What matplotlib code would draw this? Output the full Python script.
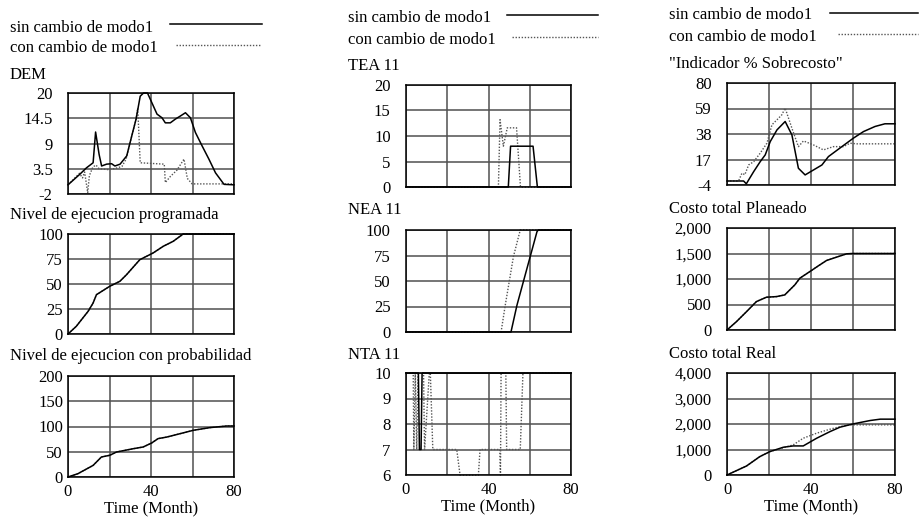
import matplotlib
matplotlib.use("Agg")
import matplotlib.pyplot as plt
from matplotlib.lines import Line2D

plt.rcParams['font.family'] = ['Liberation Serif', 'DejaVu Serif']
plt.rcParams['font.size'] = 12

W, H = 919, 519

# ---- data (Time in months) ----
dem_sin_t = [0, 5.7, 8.9, 12.1, 13.3, 15.0, 16.2, 18.6, 21.0, 22.6, 25.1, 28.3, 30.7, 32.8, 34.8,
             36.4, 38.3, 40.4, 42.9, 45.3, 46.9, 49.3, 51.7, 54.2, 56.6, 59.0, 61.4, 64.6, 67.9,
             71.1, 75.2, 80]
dem_sin = [0.0, 2.3, 3.7, 4.8, 11.5, 6.6, 4.1, 4.5, 4.6, 4.1, 4.5, 6.3, 10.6, 14.3, 19.3,
           20.0, 20.0, 17.9, 15.4, 14.6, 13.5, 13.5, 14.3, 15.0, 15.7, 14.6, 11.4, 8.5, 5.6,
           2.6, 0.1, 0.0]
dem_con_t = [0, 5.5, 7.0, 8.0, 9.5, 10.3, 12.0, 13.5, 15.0, 19.6, 23.0, 26.0, 28.0, 30.7, 32.8,
             33.6, 34.8, 46.4, 46.9, 49.3, 52.5, 55.9, 57.5, 59.8, 80]
dem_con = [0.0, 2.5, 1.5, 2.8, -1.7, 2.0, 3.9, 4.3, 3.5, 3.3, 3.6, 4.0, 5.6, 10.6, 14.3,
           16.7, 4.8, 4.5, 0.5, 1.8, 3.2, 5.6, 1.4, 0.2, 0.2]

prog_t = [0, 4.0, 6.5, 9.7, 12.1, 13.7, 20.1, 25.0, 28.2, 34.6, 41.0, 45.9, 50.7, 55.5, 80]
prog = [0, 7.7, 14.3, 22.7, 31.0, 39.3, 47.7, 52.7, 59.3, 74.3, 81.0, 87.7, 92.7, 100, 100]

prob_t = [0, 4.8, 12.1, 16.1, 20.1, 23.4, 31.4, 36.2, 40.3, 43.4, 47.5, 52.3, 60.4, 68.4, 76.5, 80]
prob = [0, 6.6, 23.0, 39.6, 43.0, 49.5, 56.0, 59.4, 67.3, 76.0, 79.0, 84.0, 92.5, 97.8, 101, 101]

tea_sin_t = [0, 49.6, 50.7, 61.6, 63.7, 80]
tea_sin = [0, 0, 8.0, 8.0, 0, 0]
tea_con_t = [0, 44.8, 45.6, 47.2, 49.1, 53.6, 55.5, 80]
tea_con = [0, 0, 13.2, 8.0, 11.6, 11.6, 0, 0]

nea_sin_t = [0, 50.9, 53.8, 60.2, 63.5, 64.1, 80]
nea_sin = [0, 0, 26.3, 73.8, 98.3, 100, 100]
nea_con_t = [0, 46.1, 48.1, 52.1, 55.4, 80]
nea_con = [0, 0, 26, 74, 100, 100]

nta_sin_t = [0, 6.0, 6.5, 7.3, 7.8, 80]
nta_sin = [10, 10, 7, 7, 10, 10]
nta_con_t = [0, 3.5, 3.8, 4.5, 5.2, 5.8, 8.5, 9.0, 11.3, 11.8, 13.0, 24.6, 26.2, 35.1, 35.9,
             45.5, 45.8, 46.1, 48.4, 48.8, 55.4, 56.7, 80]
nta_con = [10, 10, 7, 10, 7, 10, 10, 7, 10, 10, 7, 7, 6, 6, 7,
           7, 6, 10, 10, 7, 7, 10, 10]

ind_sin_t = [0, 7.9, 9.2, 12.7, 15.8, 18.2, 20.6, 23.8, 27.7, 30.9, 34.0, 37.2, 41.2, 45.2,
             48.3, 54.7, 60.2, 65.0, 70.5, 75.2, 80]
ind_sin = [-0.7, -0.7, -3.0, 7.0, 15.2, 20.8, 31.8, 41.4, 48.3, 37.3, 9.8, 4.3, 8.4, 12.5,
           19.4, 27.6, 34.6, 40.0, 44.2, 46.4, 46.4]
ind_con_t = [0, 5.5, 7.1, 8.5, 10.3, 12.7, 15.8, 19.0, 21.4, 23.8, 26.1, 27.7, 30.9, 34.0,
             36.4, 41.2, 45.9, 50.7, 55.4, 58.6, 61.8, 80]
ind_con = [-0.7, -0.7, 5.7, 4.5, 12.5, 15.2, 22.2, 30.4, 45.6, 49.7, 53.8, 59.3, 42.8, 27.6,
           32.3, 29.0, 24.9, 27.6, 27.6, 30.4, 29.9, 29.9]

plan_t = [0, 4.5, 9.3, 14.0, 18.8, 23.6, 27.5, 32.3, 34.7, 39.5, 43.5, 47.4, 52.2, 57.0, 60, 80]
plan = [0, 164, 360, 557, 643, 655, 688, 885, 1016, 1147, 1258, 1363, 1429, 1494, 1500, 1500]

real_sin_t = [0, 9.3, 15.6, 20.4, 26.8, 31.5, 36.3, 42.7, 49.1, 53.8, 60.2, 68.2, 73.0, 80]
real_sin = [0, 354, 720, 917, 1088, 1140, 1140, 1442, 1704, 1875, 2006, 2137, 2190, 2190]
real_con_t = [0, 9.3, 15.6, 20.4, 26.8, 31.5, 36.3, 42.7, 49.1, 55.4, 58.5, 80]
real_con = [0, 354, 720, 917, 1070, 1180, 1442, 1640, 1797, 1927, 1967, 1967]

legend_labels = ["sin cambio de modo1", "con cambio de modo1"]

# ---- layout in pixels: (title, x0, x1, y0, y1, yticks, ticklabels, labelpad, title baseline) ----
panels = [
    ("DEM", 68, 234, 93, 194, [-2, 3.5, 9, 14.5, 20], ["-2", "3.5", "9", "14.5", "20"], 11, 79,
     dem_sin_t, dem_sin, dem_con_t, dem_con),
    ("Nivel de ejecucion programada", 68, 234, 234, 334, [0, 25, 50, 75, 100],
     ["0", "25", "50", "75", "100"], 3.6, 219, prog_t, prog, prog_t, prog),
    ("Nivel de ejecucion con probabilidad", 68, 234, 376, 477, [0, 50, 100, 150, 200],
     ["0", "50", "100", "150", "200"], 3.6, 360, prob_t, prob, prob_t, prob),
    ("TEA 11", 406, 571, 85, 187, [0, 5, 10, 15, 20], ["0", "5", "10", "15", "20"], 11, 70,
     tea_sin_t, tea_sin, tea_con_t, tea_con),
    ("NEA 11", 406, 571, 230, 332, [0, 25, 50, 75, 100], ["0", "25", "50", "75", "100"], 11, 214,
     nea_sin_t, nea_sin, nea_con_t, nea_con),
    ("NTA 11", 406, 571, 373, 475, [6, 7, 8, 9, 10], ["6", "7", "8", "9", "10"], 11, 359,
     nta_sin_t, nta_sin, nta_con_t, nta_con),
    ('"Indicador % Sobrecosto"', 727, 895, 83, 185, [-4, 17, 38, 59, 80],
     ["-4", "17", "38", "59", "80"], 11, 68, ind_sin_t, ind_sin, ind_con_t, ind_con),
    ("Costo total Planeado", 727, 895, 228, 330, [0, 500, 1000, 1500, 2000],
     ["0", "500", "1,000", "1,500", "2,000"], 11, 213, plan_t, plan, plan_t, plan),
    ("Costo total Real", 727, 895, 373, 475, [0, 1000, 2000, 3000, 4000],
     ["0", "1,000", "2,000", "3,000", "4,000"], 11, 358, real_sin_t, real_sin, real_con_t, real_con),
]

# legend per column: text x, text baselines, line x-ranges and line y
legends = {
    68: (10, (32, 52), (170, 262), (176, 260), (24, 45)),
    406: (348, (22, 44), (507, 598), (512, 598), (15, 37)),
    727: (669, (19, 41), (830, 918), (838, 918), (13, 34)),
}

SOLID = dict(color="black", lw=1.1)
DOTTED = dict(color="#555555", lw=1.0, ls=(0, (1, 1.2)))

fig = plt.figure(figsize=(W / 100, H / 100), dpi=100)

for i, (title, x0, x1, y0, y1, yt, ytl, pad, ty, st, sv, ct, cv) in enumerate(panels):
    ax = fig.add_axes([x0 / W, (H - y1) / H, (x1 - x0) / W, (y1 - y0) / H])
    ax.plot(ct, cv, clip_on=False, **DOTTED)
    ax.plot(st, sv, clip_on=False, **SOLID)
    ax.set_xlim(0, 80)
    ax.set_ylim(yt[0], yt[-1])
    ax.set_yticks(yt)
    ax.set_yticklabels(ytl)
    ax.set_xticks([0, 20, 40, 60, 80])
    if i % 3 == 2:
        ax.set_xticklabels(["0", "", "40", "", "80"])
        ax.set_xlabel("Time (Month)", labelpad=0)
    else:
        ax.set_xticklabels([])
    ax.tick_params(length=0, pad=pad, axis="y")
    ax.tick_params(length=0, pad=5, axis="x")
    ax.grid(True, color="#505050", lw=1.1)
    ax.set_axisbelow(True)
    for s in ax.spines.values():
        s.set_linewidth(1.1)
    fig.text(legends[x0][0] / W, 1 - ty / H, title, ha="left", va="baseline")

    if i % 3 == 0:
        tx, tbase, sx, cx, ly = legends[x0]
        for lab, b in zip(legend_labels, tbase):
            fig.text(tx / W, 1 - b / H, lab, ha="left", va="baseline")
        fig.add_artist(Line2D([sx[0] / W, sx[1] / W], [1 - ly[0] / H] * 2, **SOLID))
        fig.add_artist(Line2D([cx[0] / W, cx[1] / W], [1 - ly[1] / H] * 2, **DOTTED))

fig.savefig("out.png", dpi=100)
